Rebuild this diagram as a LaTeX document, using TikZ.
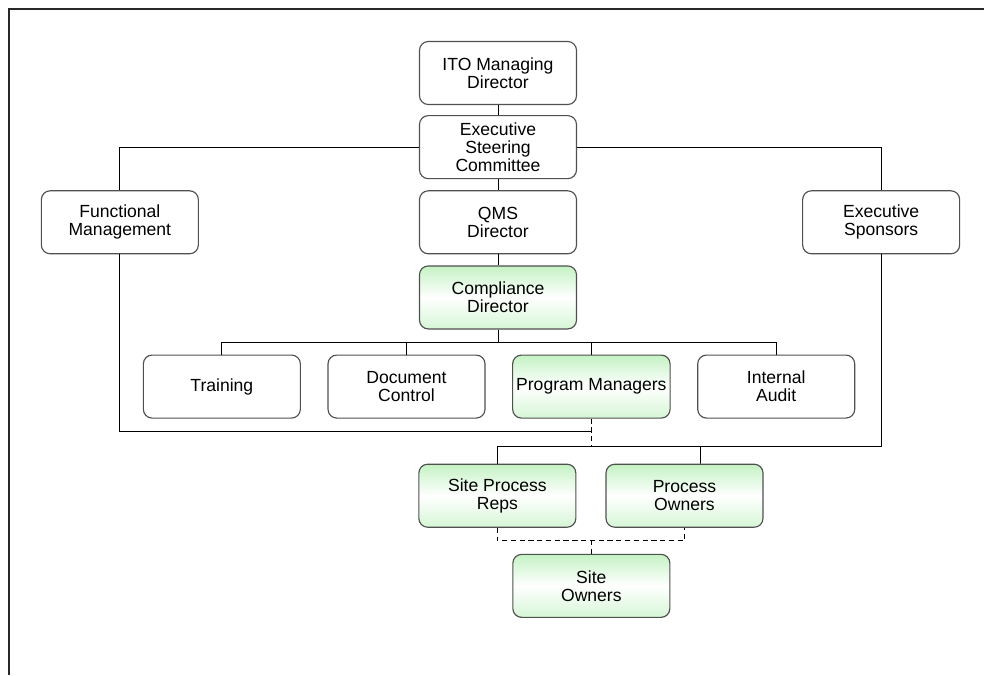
\documentclass[tikz,border=0pt]{standalone}
\usepackage{fontspec}
\setmainfont{Liberation Sans}
\usetikzlibrary{positioning}
\definecolor{BoxLine}{RGB}{80,80,80}
\definecolor{Mint}{RGB}{196,242,196}
\definecolor{FrameLine}{RGB}{40,40,40}

\begin{document}
\begin{tikzpicture}[
    node distance=0.22cm and 0.53cm,
    unit/.style={draw=BoxLine, line width=0.65pt, rounded corners=5pt, fill=white, align=center,
      minimum width=3.14cm, minimum height=1.26cm, inner sep=2pt,
      font=\fontsize{10pt}{10.4pt}\selectfont},
    qual/.style={unit, top color=Mint, bottom color=Mint!70, middle color=white},
    link/.style={draw=black, line width=0.55pt},
    weak/.style={link, dashed, dash pattern=on 3pt off 2pt}
  ]
    \useasboundingbox (0,0) rectangle (19.68,-13.5);
    \draw[FrameLine, line width=0.9pt] (19.68,-0.18) -- (0.18,-0.18) -- (0.18,-13.5);

    % top of the chart
    \node[unit] (itomd) at (9.96,-1.46) {ITO Managing\\Director};
    \node[unit, below=0.2cm of itomd] (esc) {Executive\\Steering\\Committee};
    \node[unit, below=of esc] (qms) {QMS\\Director};
    \node[unit, left=4.4cm of qms] (func) {Functional\\Management};
    \node[unit, right=4.5cm of qms] (sponsors) {Executive\\Sponsors};
    \node[qual, below=of qms] (compl) {Compliance\\Director};

    % compliance groups
    \node[unit, below=0.5cm of compl, xshift=-1.83cm] (doc) {Document\\Control};
    \node[unit, left=of doc] (train) {Training};
    \node[qual, right=of doc] (progmgr) {Program Managers};
    \node[unit, right=of progmgr] (audit) {Internal\\Audit};

    % site level
    \node[qual, below=0.9cm of progmgr, xshift=-1.88cm] (sitereps) {Site Process\\Reps};
    \node[qual, right=0.58cm of sitereps] (procown) {Process\\Owners};
    \node[qual, below=0.52cm of sitereps, xshift=1.88cm] (siteown) {Site\\Owners};

    \coordinate (joinpt) at ([yshift=-0.26cm]progmgr.south);
    \coordinate (lowbus) at ([yshift=-0.56cm]progmgr.south);
    \coordinate (dashbus) at ([yshift=-0.26cm]sitereps.south);

    \draw[link] (itomd) -- (esc);
    \draw[link] (esc) -- (qms);
    \draw[link] (qms) -- (compl);
    \draw[link] (esc.west) -| (func.north);
    \draw[link] (esc.east) -| (sponsors.north);
    \foreach \n in {train,doc,progmgr,audit}
      \draw[link] (compl.south) -- ++(0,-0.25) -| (\n.north);

    \draw[link] (func.south) |- (joinpt);
    \draw[weak] (progmgr.south) -- (lowbus);
    \draw[link] (sponsors.south) |- (lowbus -| sitereps.north) -- (sitereps.north);
    \draw[link] (lowbus -| procown.north) ++(0.32,0) -- ([xshift=0.32cm]procown.north);

    \draw[weak] (sitereps.south) -- (dashbus) -| (procown.south);
    \draw[weak] (siteown.north) -- (siteown.north |- dashbus);
  \end{tikzpicture}
\end{document}
